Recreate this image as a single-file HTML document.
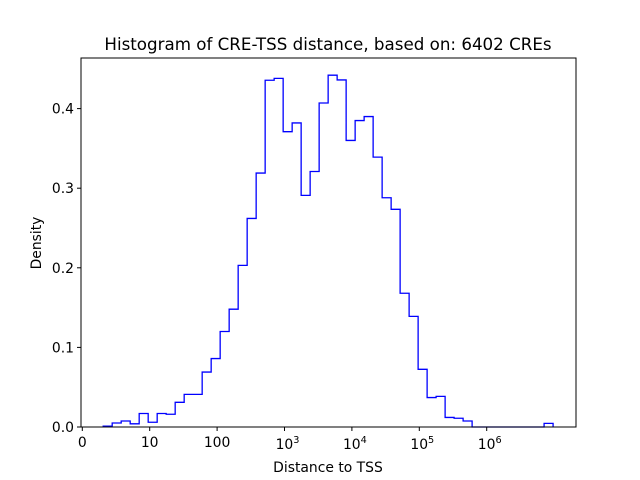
<!DOCTYPE html>
<html><head><meta charset="utf-8"><style>
html,body{margin:0;padding:0;background:#fff;}
svg{display:block;font-family:"DejaVu Sans","Liberation Sans",sans-serif;}
</style></head><body>
<svg id="chart" width="640" height="480">
<rect x="0" y="0" width="640" height="480" fill="#fff"/>
<text x="328" y="50" font-size="16.7" text-anchor="middle" fill="#000">Histogram of CRE-TSS distance, based on: 6402 CREs</text>
<g id="plot"></g>
<text x="328" y="472" font-size="13.9" text-anchor="middle">Distance to TSS</text>
<text transform="translate(41,243) rotate(-90)" font-size="13.9" text-anchor="middle">Density</text>
</svg>
<script>
const binStartLog = 0.31;
const binWidthLog = 0.1335;
const densities = [0.001,0.005,0.0075,0.004,0.017,0.006,0.017,0.016,0.031,0.041,
0.041,0.069,0.086,0.120,0.148,0.203,0.262,0.319,0.4356,0.438,
0.371,0.382,0.291,0.321,0.407,0.442,0.436,0.360,0.385,0.390,
0.339,0.288,0.2735,0.168,0.139,0.0725,0.037,0.0385,0.012,0.011,
0.0075,0,0,0,0,0,0,0,0,0.0046];
const xTickLogs = [0,1,2,3,4,5,6];
const xTickLabels = [["0",""],["10",""],["100",""],["10","3"],["10","4"],["10","5"],["10","6"]];
const yTicks = [0,0.1,0.2,0.3,0.4];
const yTickLabels = ["0.0","0.1","0.2","0.3","0.4"];

const NS="http://www.w3.org/2000/svg";
const L=81,R=576,T=58,B=427;
const xs=v=>82.3+67.4*v;
const ys=v=>B-v*796;
const g=document.getElementById('plot');
function mk(t,a){const e=document.createElementNS(NS,t);for(const k in a)e.setAttribute(k,a[k]);return e;}

// step histogram path
let d="M"+xs(binStartLog)+","+ys(0);
densities.forEach((v,i)=>{
  const x0=xs(binStartLog+i*binWidthLog),x1=xs(binStartLog+(i+1)*binWidthLog);
  d+=" L"+x0+","+ys(v)+" L"+x1+","+ys(v);
});
d+=" L"+xs(binStartLog+densities.length*binWidthLog)+","+ys(0);
const p=mk('path',{d:d,fill:'none',stroke:'#0000ff','stroke-width':1.3});


g.appendChild(p);

// frame
const fr=mk('rect',{x:L,y:T,width:R-L,height:B-T,fill:'none',stroke:'#000','stroke-width':1});


g.appendChild(fr);

xTickLogs.forEach((v,i)=>{
  const x=xs(v);
  const tk=mk('line',{x1:x,x2:x,y1:B,y2:B+4,stroke:'#000'});
  
  
  g.appendChild(tk);
  const lab=xTickLabels[i];
  const t=mk('text',{x:x,y:B+20,'font-size':13.9,'text-anchor':'middle'});
  
  
  if(lab[1]){
    t.setAttribute('x',x+3);
    const a=mk('tspan',{});a.textContent=lab[0];t.appendChild(a);
    const b=mk('tspan',{dy:-6,'font-size':9.7});b.textContent=lab[1];t.appendChild(b);
    t.setAttribute('y',B+22);
  } else t.textContent=lab[0];
  g.appendChild(t);
});
yTicks.forEach((v,i)=>{
  const y=ys(v);
  const tk=mk('line',{x1:L-4,x2:L,y1:y,y2:y,stroke:'#000'});
  
  
  g.appendChild(tk);
  const t=mk('text',{x:L-7,y:y+5,'font-size':13.9,'text-anchor':'end'});
  t.textContent=yTickLabels[i];
  
  
  g.appendChild(t);
});
</script>
</body></html>
